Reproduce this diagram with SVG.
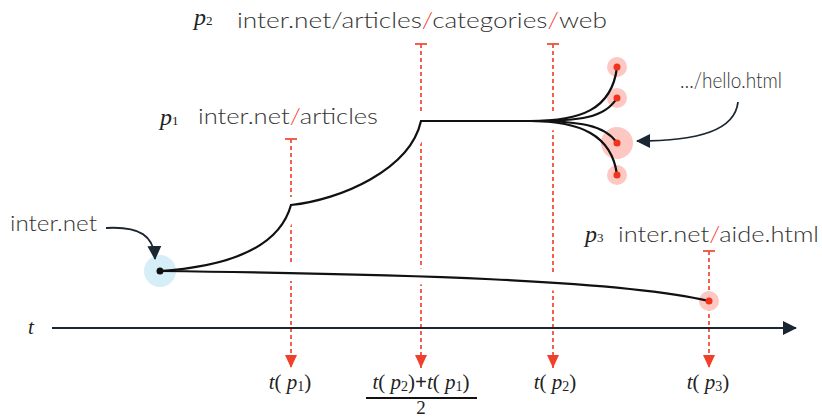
<svg xmlns="http://www.w3.org/2000/svg" width="822" height="417" viewBox="0 0 822 417">
<defs>
<style>
.lbl{font-family:"Lato","Liberation Sans",sans-serif;font-weight:300;font-size:21px;fill:#333}
.sl{fill:#f0402c}
.math{font-family:"Liberation Serif",serif;font-size:21px;fill:#222}
.pl{font-family:"Liberation Serif",serif;font-size:24px;fill:#222;font-style:italic}
.sub{font-size:13px;font-style:normal}
.it{font-style:italic}
.guide{stroke:#f0503e;stroke-width:1.8;stroke-dasharray:4 3;fill:none}
.tick{stroke:#f0503e;stroke-width:1.8}
.halo{stroke:#fff;stroke-width:16;fill:none;stroke-linecap:round}
.edge{stroke:#111;stroke-width:2.2;fill:none}
.pink{fill:#fcc8c1}
.rdot{fill:#f0321e}
.ptr{stroke:#1b2633;stroke-width:1.8;fill:none}
</style>
<marker id="ra" markerUnits="userSpaceOnUse" markerWidth="14" markerHeight="12" viewBox="0 0 14 12" refX="13" refY="6" orient="auto">
<path d="M0,0 L13,6 L0,12 z" fill="#f0402c"/>
</marker>
<marker id="da" markerUnits="userSpaceOnUse" markerWidth="14" markerHeight="14" viewBox="0 0 14 14" refX="13" refY="7" orient="auto">
<path d="M0,0 L14,7 L0,14 z" fill="#1b2633"/>
</marker>
</defs>
<rect width="822" height="417" fill="#fff"/>

<g id="guides">
<line class="tick" x1="285" y1="139" x2="297" y2="139"/>
<path class="guide" d="M291,139 V368" marker-end="url(#ra)"/>
<line class="tick" x1="415" y1="44" x2="427" y2="44"/>
<path class="guide" d="M421,44 V368" marker-end="url(#ra)"/>
<line class="tick" x1="547" y1="44" x2="559" y2="44"/>
<path class="guide" d="M553,44 V368" marker-end="url(#ra)"/>
<line class="tick" x1="703" y1="251" x2="715" y2="251"/>
<path class="guide" d="M709,251 V368" marker-end="url(#ra)"/>
</g>

<g id="axis">
<path class="ptr" d="M52,328 H796" marker-end="url(#da)" stroke-width="2"/>
<text class="math it" x="28" y="334">t</text>
</g>

<g id="halos">
<path class="halo" d="M172,271 C400,274 620,280 700,300"/>
<path class="halo" d="M175,270 C235,266 280,245 291,205 C340,200 410,170 421,121 L530,121"/>
<path class="halo" d="M530,121 C580,121 612,110 617,72"/>
<path class="halo" d="M530,121 C580,121 605,118 614,101"/>
<path class="halo" d="M530,121 C580,121 605,125 614,138"/>
<path class="halo" d="M530,121 C580,121 612,135 617,168"/>
</g>

<g id="origin">
<circle cx="160" cy="271" r="16" fill="#d5eef7"/>
</g>
<g id="p3-node">
<circle class="pink" cx="709" cy="301" r="10"/>
</g>
<g id="hello-1"><circle class="pink" cx="617" cy="67" r="10"/></g>
<g id="hello-2"><circle class="pink" cx="617" cy="98" r="10"/></g>
<g id="hello-3"><circle class="pink" cx="617" cy="143" r="16"/></g>
<g id="hello-4"><circle class="pink" cx="617" cy="175" r="10"/></g>

<g id="connectors">
<path class="edge" d="M160,271 C400,274 620,280 709,301"/>
<path class="edge" d="M160,271 C235,266 280,245 291,205 C340,200 410,170 421,121 L530,121"/>
<path class="edge" d="M530,121 C580,121 612,110 617,67"/>
<path class="edge" d="M530,121 C580,121 605,118 617,98"/>
<path class="edge" d="M530,121 C580,121 605,125 617,143"/>
<path class="edge" d="M530,121 C580,121 612,135 617,175"/>
<path class="ptr" d="M106,228 C140,226 154,236 155,259" marker-end="url(#da)"/>
<path class="ptr" d="M738,102 C735,130 700,141 637,141" marker-end="url(#da)"/>
</g>

<g id="dots">
<circle cx="160" cy="271" r="3.5" fill="#111"/>
<circle class="rdot" cx="709" cy="301" r="3.5"/>
<circle class="rdot" cx="617" cy="67" r="3.5"/>
<circle class="rdot" cx="617" cy="98" r="3.5"/>
<circle class="rdot" cx="617" cy="143" r="3.5"/>
<circle class="rdot" cx="617" cy="175" r="3.5"/>
</g>

<g id="labels">
<text class="lbl" x="10" y="231" textLength="87" lengthAdjust="spacingAndGlyphs">inter.net</text>
<text class="pl" x="160" y="125">p<tspan class="sub">1</tspan></text>
<text class="lbl" x="198" y="124" textLength="180" lengthAdjust="spacingAndGlyphs">inter.net<tspan class="sl">/</tspan>articles</text>
<text class="pl" x="194" y="25">p<tspan class="sub">2</tspan></text>
<text class="lbl" x="237" y="28" textLength="370" lengthAdjust="spacingAndGlyphs">inter.net/articles<tspan class="sl">/</tspan>categories<tspan class="sl">/</tspan>web</text>
<text class="lbl" x="680" y="88" textLength="102" lengthAdjust="spacingAndGlyphs">…/hello.html</text>
<text class="pl" x="585" y="242">p<tspan class="sub">3</tspan></text>
<text class="lbl" x="618" y="242" textLength="201" lengthAdjust="spacingAndGlyphs">inter.net<tspan class="sl">/</tspan>aide.html</text>
</g>

<g id="time-labels">
<text class="math" x="290" y="389" text-anchor="middle"><tspan class="it">t</tspan>( <tspan class="it">p</tspan><tspan font-size="14" dy="2">1</tspan><tspan dy="-2">)</tspan></text>
<text class="math" x="421" y="389" text-anchor="middle"><tspan class="it">t</tspan>( <tspan class="it">p</tspan><tspan font-size="14" dy="2">2</tspan><tspan dy="-2">)</tspan><tspan font-weight="bold">+</tspan><tspan class="it">t</tspan>( <tspan class="it">p</tspan><tspan font-size="14" dy="2">1</tspan><tspan dy="-2">)</tspan></text>
<line x1="366" y1="398" x2="477" y2="398" stroke="#111" stroke-width="2"/>
<text class="math" x="421" y="414" text-anchor="middle" style="font-size:19px">2</text>
<text class="math" x="555" y="389" text-anchor="middle"><tspan class="it">t</tspan>( <tspan class="it">p</tspan><tspan font-size="14" dy="2">2</tspan><tspan dy="-2">)</tspan></text>
<text class="math" x="708" y="389" text-anchor="middle"><tspan class="it">t</tspan>( <tspan class="it">p</tspan><tspan font-size="14" dy="2">3</tspan><tspan dy="-2">)</tspan></text>
</g>
</svg>
